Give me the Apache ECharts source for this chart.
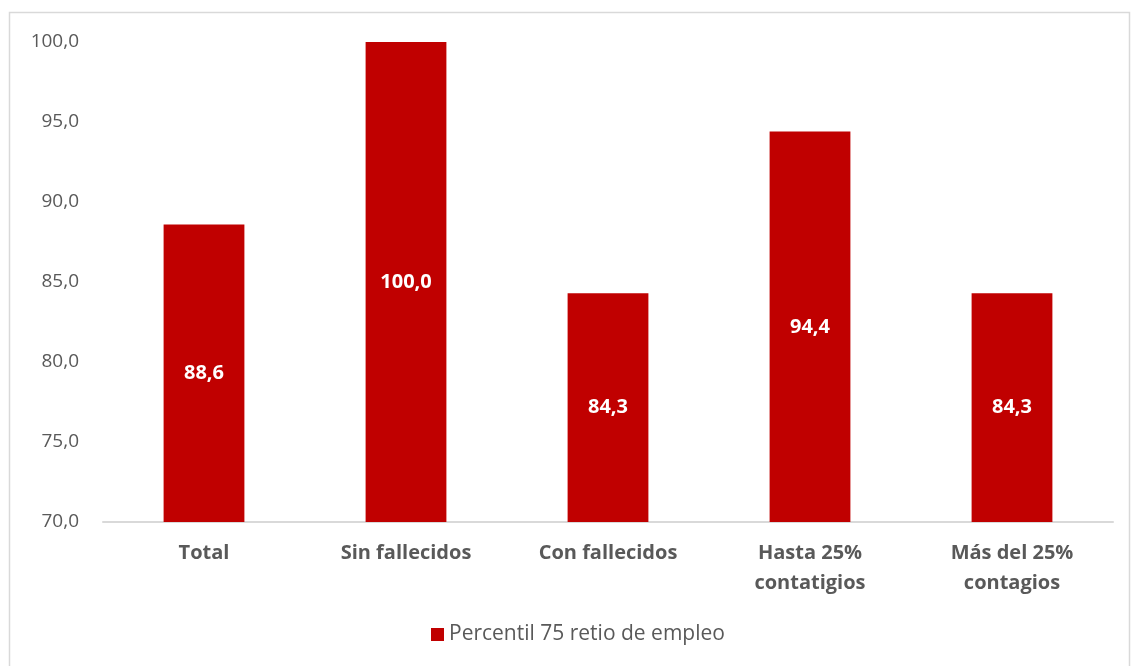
<!DOCTYPE html>
<html>
<head>
<meta charset="utf-8">
<script src="https://cdn.jsdelivr.net/npm/echarts@6/dist/echarts.min.js"></script>
<style>
  html, body { margin: 0; padding: 0; background: #fff; }
  #chart { width: 1131px; height: 666px; }
</style>
</head>
<body>
<div id="chart"></div>
<script>
const categories = ['Total', 'Sin fallecidos', 'Con fallecidos', 'Hasta 25%\ncontatigios', 'Más del 25%\ncontagios'];
const values = [88.6, 100.0, 84.3, 94.4, 84.3];
const seriesName = 'Percentil 75 retio de empleo';

const fmt = function (v) {
    return Number(v).toFixed(1).replace('.', ',');
};

const chart = echarts.init(document.getElementById('chart'));
const option = {
    backgroundColor: '#fff',
    textStyle: { fontFamily: 'Open Sans' },
    graphic: [{
        type: 'rect',
        shape: { x: 9.5, y: 12.5, width: 1120, height: 660 },
        style: { fill: 'none', stroke: '#d9d9d9', lineWidth: 1.5 },
        silent: true
    }],
    grid: { left: 103, right: 18, top: 42, bottom: 144 },
    legend: {
        bottom: 16,
        left: 426,
        itemWidth: 13,
        itemHeight: 13,
        icon: 'rect',
        itemGap: 6,
        textStyle: { color: '#595959', fontSize: 21, fontFamily: 'Open Sans' },
        data: [seriesName]
    },
    xAxis: {
        type: 'category',
        data: categories,
        axisLine: { lineStyle: { color: '#d9d9d9', width: 2 } },
        axisTick: { show: false },
        axisLabel: {
            color: '#595959',
            fontSize: 20,
            fontWeight: 'bold',
            lineHeight: 30,
            margin: 16,
            interval: 0,
            verticalAlign: 'top'
        }
    },
    yAxis: {
        type: 'value',
        min: 70,
        max: 100,
        interval: 5,
        axisLine: { show: false },
        axisTick: { show: false },
        splitLine: { show: false },
        axisLabel: {
            color: '#595959',
            fontSize: 19,
            margin: 24,
            formatter: fmt
        }
    },
    series: [{
        name: seriesName,
        type: 'bar',
        data: values,
        barWidth: '40%',
        itemStyle: { color: '#c00000' },
        label: {
            show: true,
            position: 'inside',
            color: '#fff',
            fontSize: 20,
            fontWeight: 'bold',
            formatter: function (p) { return fmt(p.value); }
        }
    }]
};
chart.setOption(option);
</script>
</body>
</html>
